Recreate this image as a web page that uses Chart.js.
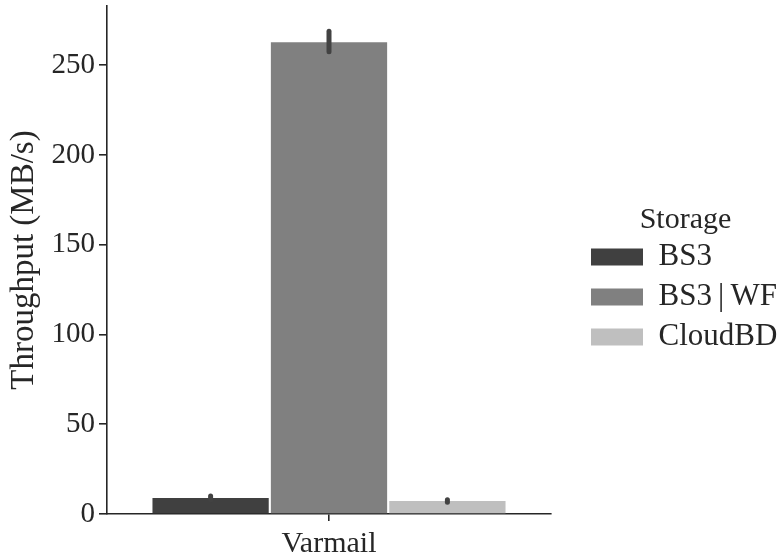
<!DOCTYPE html>
<html>
<head>
<meta charset="utf-8">
<script src="https://cdn.jsdelivr.net/npm/chart.js@4/dist/chart.umd.min.js"></script>
<style>
  html, body { margin: 0; padding: 0; background: #ffffff; }
  #wrap { width: 783px; height: 557px; }
</style>
</head>
<body>
<div id="wrap"><canvas id="chart" width="783" height="557"></canvas></div>
<script>
// Workload on the x axis
const categories = ['Varmail'];
// Storage back-ends (one bar each)
const storageNames = ['BS3', 'BS3\u2009|\u2009WF', 'CloudBD'];
// Mean throughput in MB/s
const meanThroughput = [8.9, 262.8, 7.2];
// Confidence interval bounds in MB/s
const ciLow = [7.9, 257.5, 6.6];
const ciHigh = [10.0, 269.0, 8.0];
// Y axis ticks
const yTicks = [0, 50, 100, 150, 200, 250];
const yMax = 283;

const barColors = ['#404040', '#808080', '#bfbfbf'];
const inkColor = '#262626';
const errColor = '#424242';
const fontFamily = '"Liberation Serif", "Times New Roman", serif';

const datasets = storageNames.map((name, i) => ({
  label: name,
  data: [meanThroughput[i]],
  backgroundColor: barColors[i],
  borderWidth: 0,
  categoryPercentage: 0.8,
  barPercentage: 0.982
}));

// Confidence-interval whiskers drawn on top of each bar
const errorBars = {
  id: 'errorBars',
  afterDatasetsDraw(chart) {
    const ctx = chart.ctx;
    const y = chart.scales.y;
    ctx.save();
    ctx.strokeStyle = errColor;
    ctx.lineWidth = 5;
    ctx.lineCap = 'round';
    chart.data.datasets.forEach((ds, i) => {
      const meta = chart.getDatasetMeta(i);
      meta.data.forEach((bar) => {
        ctx.beginPath();
        ctx.moveTo(bar.x, y.getPixelForValue(ciLow[i]));
        ctx.lineTo(bar.x, y.getPixelForValue(ciHigh[i]));
        ctx.stroke();
      });
    });
    ctx.restore();
  }
};

// Leave a gap between the plot and the legend block on the right
const legendGap = {
  id: 'legendGap',
  afterLayout(chart) {
    const lg = chart.legend;
    if (!lg) return;
    lg.left = chart.chartArea.right + 31;
    lg.width = 207;
    lg.right = lg.left + lg.width;
  }
};

new Chart(document.getElementById('chart'), {
  type: 'bar',
  data: { labels: categories, datasets },
  plugins: [errorBars, legendGap],
  options: {
    responsive: false,
    animation: false,
    devicePixelRatio: 1,
    layout: { padding: { top: 6, left: 0, right: 0, bottom: 0 } },
    plugins: {
      tooltip: { enabled: false },
      legend: {
        position: 'right',
        align: 'center',
        title: {
          display: true,
          text: 'Storage',
          color: inkColor,
          font: { family: fontFamily, size: 30, lineHeight: 0.913 },
          padding: { top: 3.5, bottom: 0 }
        },
        labels: {
          color: inkColor,
          font: { family: fontFamily, size: 31 },
          boxWidth: 52,
          boxHeight: 17,
          padding: 9
        }
      }
    },
    scales: {
      x: {
        offset: true,
        grid: { display: true, drawOnChartArea: false, offset: false, tickLength: 7, color: inkColor, lineWidth: 1.6 },
        border: { display: true, color: inkColor, width: 1.6 },
        ticks: { color: inkColor, font: { family: fontFamily, size: 30 }, padding: 5 },
        afterFit(scale) {
          scale.height = 43;
          scale.paddingLeft = 0;
          scale.paddingRight = 232;
        }
      },
      y: {
        min: 0,
        max: yMax,
        grid: { display: true, drawOnChartArea: false, tickLength: 8, color: inkColor, lineWidth: 1.6 },
        border: { display: true, color: inkColor, width: 1.6 },
        ticks: { color: inkColor, font: { family: fontFamily, size: 29 }, padding: 4 },
        afterBuildTicks(scale) {
          scale.ticks = yTicks.map(v => ({ value: v }));
        },
        title: {
          display: true,
          text: 'Throughput (MB/s)',
          color: inkColor,
          font: { family: fontFamily, size: 33 },
          padding: { top: 5, bottom: 0 }
        },
        afterFit(scale) {
          scale.width = 107;
          scale.paddingTop = 0;
          scale.paddingBottom = 0;
        }
      }
    }
  }
});
</script>
</body>
</html>
